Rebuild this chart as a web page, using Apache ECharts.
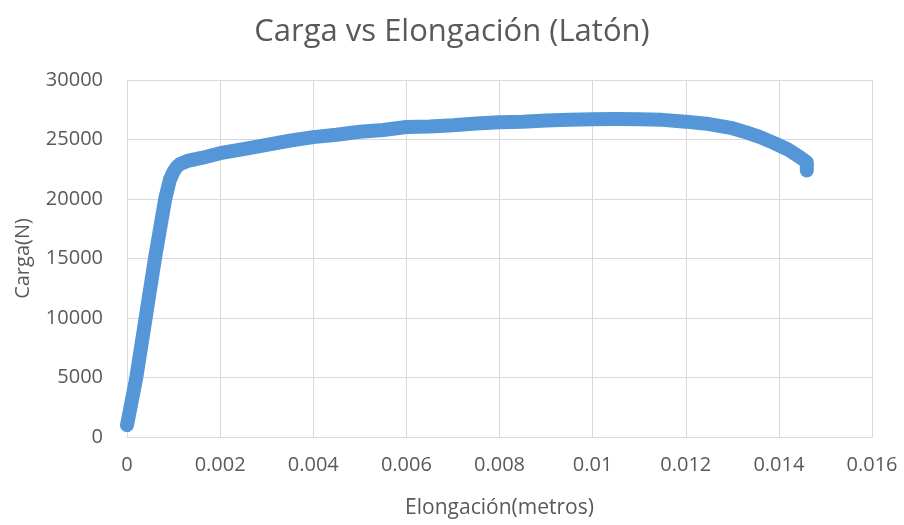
<!DOCTYPE html>
<html>
<head>
<meta charset="utf-8">
<script src="https://cdn.jsdelivr.net/npm/echarts@6/dist/echarts.min.js"></script>
<style>
  html, body { margin: 0; padding: 0; background: #fff; }
  #chart { width: 904px; height: 525px; }
</style>
</head>
<body>
<div id="chart"></div>
<script>
// elongación (m) y carga (N)
var elongacion = [0, 0.0002, 0.0004, 0.0006, 0.00082, 0.00092, 0.001, 0.00107, 0.00114, 0.0013,
  0.0016, 0.002, 0.0025, 0.003, 0.0035, 0.004, 0.0045, 0.005, 0.0055,
  0.006, 0.0065, 0.007, 0.0075, 0.008, 0.0085, 0.009, 0.0095, 0.01, 0.0105,
  0.011, 0.0115, 0.012, 0.0125, 0.013, 0.0133, 0.0136, 0.0139, 0.0142, 0.0144, 0.0146, 0.0146]
var carga = [1000, 5000, 10000, 15000, 20000, 21600, 22300, 22700, 22950, 23200,
  23450, 23850, 24200, 24550, 24900, 25200, 25400, 25650, 25800,
  26050, 26100, 26200, 26350, 26450, 26500, 26600, 26650, 26700, 26720,
  26700, 26650, 26500, 26300, 25950, 25600, 25200, 24700, 24150, 23650, 23100, 22400]
var xTicks = [0, 0.002, 0.004, 0.006, 0.008, 0.01, 0.012, 0.014, 0.016]
var yTicks = [0, 5000, 10000, 15000, 20000, 25000, 30000]

var puntos = elongacion.map(function (x, i) { return [x, carga[i]] })

var myChart = echarts.init(document.getElementById('chart'))
myChart.setOption({
  animation: false,
  textStyle: { fontFamily: 'Open Sans' },
  title: {
    text: 'Carga vs Elongación (Latón)',
    left: 'center',
    top: 12,
    textStyle: { color: '#595959', fontSize: 31, fontWeight: 'normal', fontFamily: 'Open Sans' }
  },
  grid: { left: 127, right: 32, top: 80, bottom: 88 },
  xAxis: {
    type: 'value',
    min: xTicks[0],
    max: xTicks[xTicks.length - 1],
    interval: 0.002,
    name: 'Elongación(metros)',
    nameLocation: 'middle',
    nameGap: 61,
    nameTextStyle: { color: '#595959', fontSize: 21 },
    axisLine: { show: true, lineStyle: { color: '#d9d9d9' } },
    axisTick: { show: false },
    axisLabel: { color: '#595959', fontSize: 20, margin: 18 },
    splitLine: { show: true, lineStyle: { color: '#d9d9d9' } }
  },
  yAxis: {
    type: 'value',
    min: yTicks[0],
    max: yTicks[yTicks.length - 1],
    interval: 5000,
    name: 'Carga(N)',
    nameLocation: 'middle',
    nameGap: 94,
    nameTextStyle: { color: '#595959', fontSize: 20 },
    axisLine: { show: false },
    axisTick: { show: false },
    axisLabel: { color: '#595959', fontSize: 20, margin: 24, formatter: function (v) { return String(v) } },
    splitLine: { show: true, lineStyle: { color: '#d9d9d9' } }
  },
  series: [{
    type: 'line',
    data: puntos,
    smooth: false,
    showSymbol: false,
    lineStyle: { color: '#5496d8', width: 14, cap: 'round', join: 'round' }
  }]
})
</script>
</body>
</html>
